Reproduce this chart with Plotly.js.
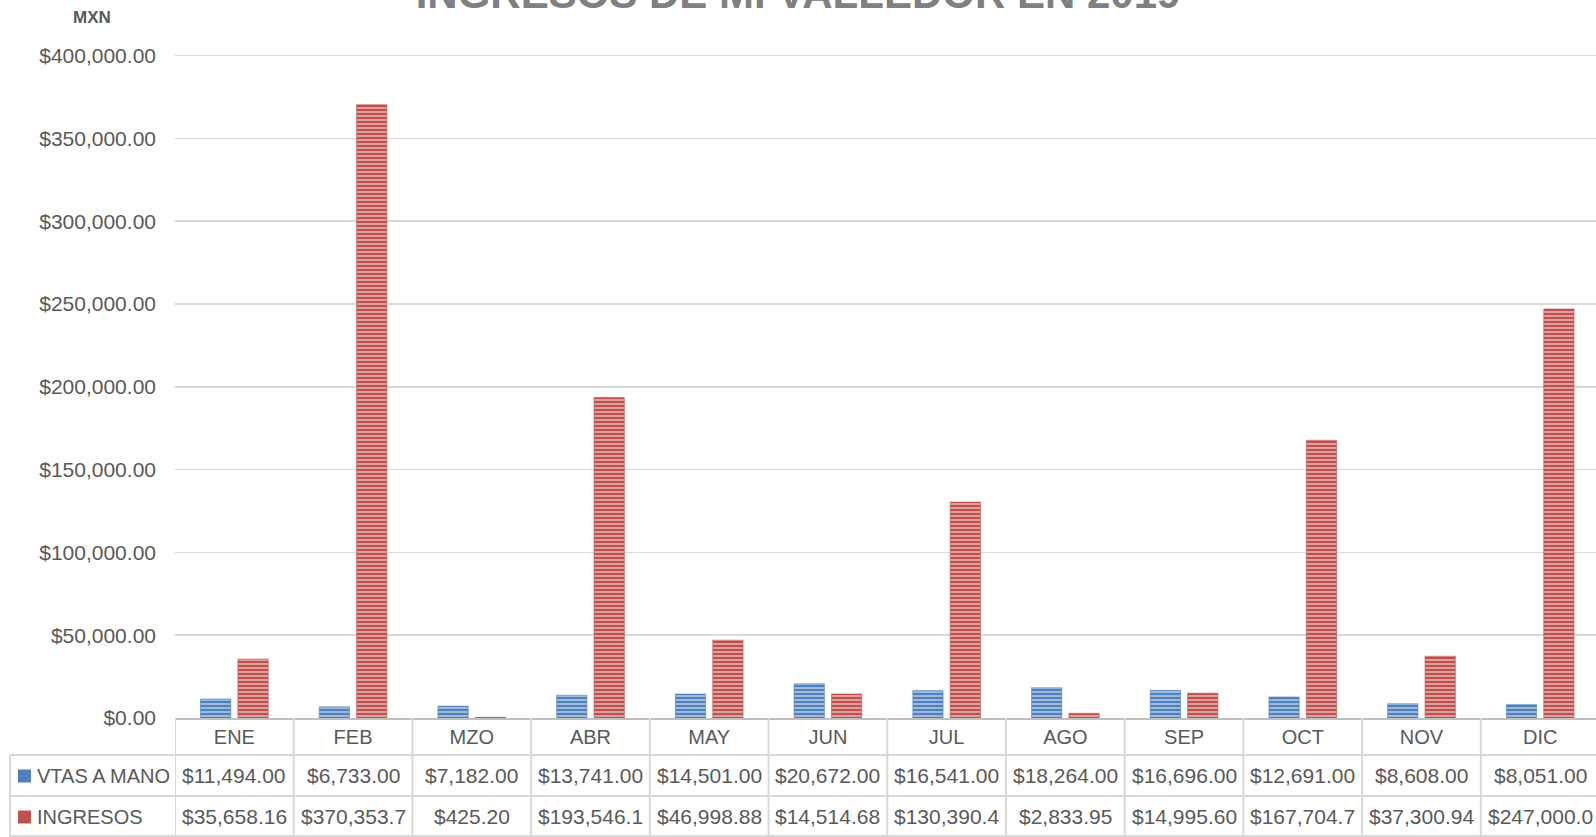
<!DOCTYPE html>
<html>
<head>
<meta charset="utf-8">
<script src="https://cdn.plot.ly/plotly-3.0.1.min.js"></script>
<style>html,body{margin:0;padding:0;background:#fff;}#chart{width:1596px;height:837px;}</style>
</head>
<body>
<div id="chart"></div>
<script>
// ---- data ----
const months = ['ENE','FEB','MZO','ABR','MAY','JUN','JUL','AGO','SEP','OCT','NOV','DIC'];
const vtasAMano = [11494.00, 6733.00, 7182.00, 13741.00, 14501.00, 20672.00, 16541.00, 18264.00, 16696.00, 12691.00, 8608.00, 8051.00];
const ingresos = [35658.16, 370353.70, 425.20, 193546.10, 46998.88, 14514.68, 130390.40, 2833.95, 14995.60, 167704.70, 37300.94, 247000.00];
const seriesNames = ['VTAS A MANO','INGRESOS'];
const titleText = 'INGRESOS DE MI VALLEDOR EN 2019';
const yAxisLabel = 'MXN';

// ---- styling / layout constants ----
const W = 1596, H = 837;
const M = {l:175, r:0, t:54, b:119};
const plotW = W - M.l - M.r, plotH = H - M.t - M.b;
const px2x = px => (px - M.l) / plotW;
const py2y = py => (H - M.b - py) / plotH;
const FONT = 'Liberation Sans, Arial, sans-serif';
const TXT = '#595959';
const GRID = '#D9D9D9';
const BLUE = '#4F81BD', RED = '#C0504D';
const BLUE_L = '#B3C8E4', RED_L = '#E6B3B2';

const fmt = new Intl.NumberFormat('en-US',{minimumFractionDigits:2, maximumFractionDigits:2});
const cell = v => ('$' + fmt.format(v)).slice(0,10);

const traces = [
  {type:'bar', name:seriesNames[0], x:months, y:vtasAMano,
   marker:{color:BLUE, line:{color:'rgba(79,129,189,0.6)', width:1},
           pattern:{shape:'-', fillmode:'replace', bgcolor:BLUE, fgcolor:BLUE_L, size:4, solidity:0.4}},
   hoverinfo:'x+y'},
  {type:'bar', name:seriesNames[1], x:months, y:ingresos,
   marker:{color:RED, line:{color:'rgba(192,80,77,0.6)', width:1},
           pattern:{shape:'-', fillmode:'replace', bgcolor:RED, fgcolor:RED_L, size:4, solidity:0.4}},
   hoverinfo:'x+y'}
];

// table rows
const rowY = [775.5, 816.5];
const annotations = [];
const shapes = [];
[vtasAMano, ingresos].forEach((arr, r) => {
  arr.forEach((v, i) => {
    annotations.push({xref:'x', yref:'paper', x:months[i], y:py2y(rowY[r]),
      text:cell(v), showarrow:false, xanchor:'center', yanchor:'middle',
      font:{family:FONT, size:21, color:TXT}});
  });
  annotations.push({xref:'paper', yref:'paper', x:px2x(35), y:py2y(rowY[r]),
    text:seriesNames[r], showarrow:false, xanchor:'left', yanchor:'middle',
    font:{family:FONT, size:20, color:TXT}});
  shapes.push({type:'rect', xref:'paper', yref:'paper', x0:px2x(18), x1:px2x(31),
    y0:py2y(rowY[r]-6), y1:py2y(rowY[r]+7), fillcolor:r===0?BLUE:RED,
    line:{width:0}});
});
annotations.push({xref:'paper', yref:'paper', x:px2x(92), y:py2y(18), text:'<b>'+yAxisLabel+'</b>',
  showarrow:false, xanchor:'center', yanchor:'middle', font:{family:FONT, size:17, color:TXT}});

// table grid lines
[755, 796, 836].forEach(py => shapes.push({type:'line', xref:'paper', yref:'paper',
  x0:px2x(10), x1:1.01, y0:py2y(py), y1:py2y(py), line:{color:GRID, width:2}}));
for (let k = 0; k <= months.length; k++) {
  shapes.push({type:'line', xref:'x', yref:'paper', x0:k-0.5, x1:k-0.5,
    y0:0, y1:py2y(837), line:{color:GRID, width:2}});
}
shapes.push({type:'line', xref:'paper', yref:'paper', x0:px2x(10), x1:px2x(10),
  y0:py2y(755), y1:py2y(837), line:{color:GRID, width:2}});

const layout = {
  width:W, height:H, autosize:false,
  margin:M,
  paper_bgcolor:'#fff', plot_bgcolor:'#fff',
  showlegend:false,
  barmode:'group', bargap:0.37, bargroupgap:0.19,
  title:{text:'<b>'+titleText+'</b>', x:0.5, xref:'container', y:1, yref:'container', yanchor:'top',
         pad:{t:-21}, automargin:false,
         font:{family:FONT, size:42, color:'#808080'}},
  xaxis:{type:'category', range:[-0.5, 11.47], showgrid:false, zeroline:false,
         showline:true, linecolor:'#BFBFBF', linewidth:2,
         ticks:'', tickfont:{family:FONT, size:20, color:TXT}, ticklabelstandoff:0,
         fixedrange:true},
  yaxis:{range:[0, 401000], tickvals:[0,50000,100000,150000,200000,250000,300000,350000,400000],
         tickformat:'$,.2f', showgrid:true, gridcolor:GRID, gridwidth:1.5,
         zeroline:false, showline:false, ticks:'', ticklabelstandoff:18,
         tickfont:{family:FONT, size:21, color:TXT}, fixedrange:true},
  annotations:annotations,
  shapes:shapes,
  font:{family:FONT, color:TXT}
};

Plotly.newPlot('chart', traces, layout, {displayModeBar:false, staticPlot:true});
</script>
</body>
</html>
